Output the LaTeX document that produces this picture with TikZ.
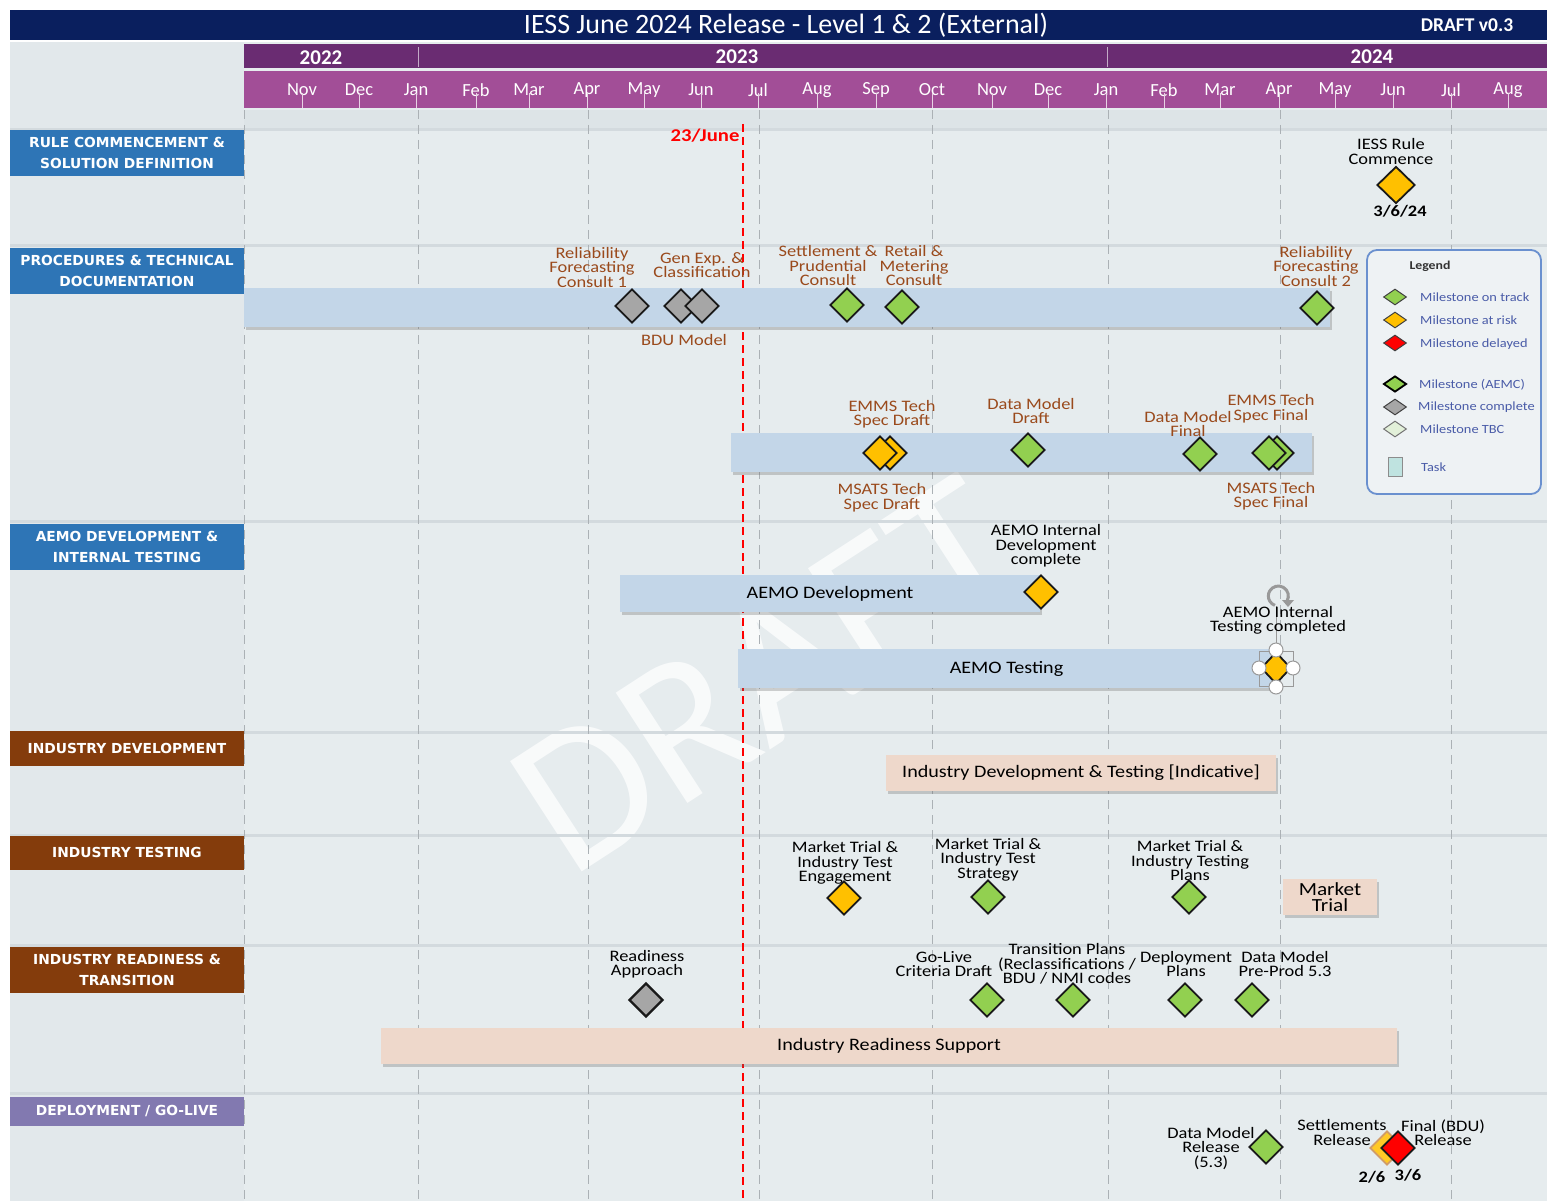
\documentclass[tikz,border=0pt]{standalone}
\usepackage{fontspec}
\setmainfont{Carlito}
\newfontfamily\wide[FakeStretch=1.15]{Carlito}
\newfontfamily\hdrfont{DejaVu Sans}
\usetikzlibrary{shapes.geometric,shadows}
\definecolor{navy}{HTML}{0A1F5E}
\definecolor{yeardark}{HTML}{6A2C72}
\definecolor{monthpurple}{HTML}{A24E97}
\definecolor{laneblue}{HTML}{2E75B6}
\definecolor{lanebrown}{HTML}{843C0C}
\definecolor{lanepurple}{HTML}{8279B0}
\definecolor{msgreen}{HTML}{92D050}
\definecolor{msorange}{HTML}{FFC000}
\definecolor{msred}{HTML}{FF0000}
\definecolor{msgray}{HTML}{A6A6A6}
\definecolor{mstbc}{HTML}{E2F0D9}
\definecolor{lblbrown}{HTML}{9A4A1C}
\definecolor{mainbg}{HTML}{E6ECEE}
\definecolor{leftbg}{HTML}{E2E8EB}
\definecolor{stripbg}{HTML}{DDE4E7}
\definecolor{sepc}{HTML}{D3DADE}
\definecolor{gridc}{HTML}{ABB1B5}
\definecolor{bluebar}{HTML}{C3D6E8}
\definecolor{peach}{HTML}{EED8CB}
\definecolor{legblue}{HTML}{6A90CF}
\definecolor{legbg}{HTML}{EEF2F4}
\definecolor{legtext}{HTML}{4A5CA8}
\definecolor{tasktl}{HTML}{BFE3E0}
\begin{document}
\begin{tikzpicture}[x=1pt,y=-1pt,
  ms/.style={diamond, draw=black!90, line width=1.8pt, minimum width=34pt, minimum height=34pt, inner sep=0pt},
  ok/.style={ms, fill=msgreen},
  risk/.style={ms, fill=msorange},
  late/.style={ms, fill=msred},
  done/.style={ms, fill=msgray},
  lbl/.style={text=lblbrown, align=center, inner sep=0pt, font=\wide\fontsize{16}{14.5}\selectfont},
  blk/.style={text=black, align=center, inner sep=0pt, font=\wide\fontsize{16}{14.5}\selectfont},
  datel/.style={text=black, inner sep=0pt, font=\wide\fontsize{16}{16}\selectfont\bfseries},
  lanehdr/.style={text=white, align=center, inner sep=0pt, minimum width=234pt, font=\hdrfont\bfseries\fontsize{13.8}{21}\selectfont},
  bar/.style={fill=bluebar, inner sep=0pt, font=\wide\fontsize{17.5}{17.5}\selectfont, drop shadow={shadow xshift=2pt, shadow yshift=-3pt, opacity=0.3, fill=black!60}},
  pbar/.style={bar, fill=peach},
  month/.style={text=white, inner sep=0pt, font=\fontsize{18.5}{18.5}\selectfont},
  year/.style={text=white, inner sep=0pt, font=\fontsize{21}{21}\selectfont\bfseries},
  gridl/.style={gridc, line width=0.9pt, dash pattern=on 9pt off 6pt},
  lms/.style={diamond, draw=black!75, line width=1pt, minimum width=23pt, minimum height=16pt, inner sep=0pt},
  legt/.style={text=legtext, anchor=west, inner sep=0pt, font=\wide\fontsize{12.5}{13}\selectfont},
  handle/.style={circle, draw=black!40, fill=white, line width=1pt, minimum size=14pt, inner sep=0pt}
]
\useasboundingbox (0,0) rectangle (1547,1201);
\fill[white] (0,0) rectangle (1547,1201);
% backgrounds
\fill[mainbg] (10,42) rectangle (1547,1201);
\fill[leftbg] (10,42) rectangle (244,1201);
\fill[stripbg] (244,110) rectangle (1547,130);
% watermark
\node[rotate=33, opacity=0.75, text=white, inner sep=0pt, font=\fontsize{205}{205}\selectfont] (wm) at (765,675) {DRAFT};
% lane separators
\foreach \yy in {130,245,521,732,835,945,1093}
  \draw[sepc, line width=3pt] (10,\yy) -- (1547,\yy);
% title bar
\fill[navy] (10,10) rectangle (1547,40);
\node[text=white, inner sep=0pt, font=\fontsize{28}{28}\selectfont] (title) at (786,25) {IESS June 2024 Release - Level 1 \& 2 (External)};
\node[text=white, inner sep=0pt, font=\fontsize{19.5}{19.5}\selectfont\bfseries] (ver) at (1467,25) {DRAFT v0.3};
% year bar
\fill[yeardark] (244,44) rectangle (1547,68);
\draw[white!60!yeardark, line width=1pt] (418,47) -- (418,67);
\draw[white!60!yeardark, line width=1pt] (1107,47) -- (1107,67);
\node[year] (y22) at (321,58) {2022};
\node[year] (y23) at (737,57) {2023};
\node[year] (y24) at (1372,57) {2024};
% month bar
\fill[monthpurple] (244,71) rectangle (1547,108);
\foreach \mx/\mn [count=\i] in {302/Nov,359/Dec,416/Jan,476/Feb,529/Mar,587/Apr,644/May,701/Jun,758/Jul,817/Aug,876/Sep,932/Oct,992/Nov,1048/Dec,1106/Jan,1164/Feb,1220/Mar,1279/Apr,1335/May,1393/Jun,1451/Jul,1508/Aug}{
  \node[month] (m\i) at (\mx,90) {\mn};
  \draw[white!75!monthpurple, line width=0.9pt] (\mx,93) -- (\mx,108);
}
% grid lines
\foreach \gx in {244,418,588,759,932,1108,1280,1451}
  \draw[gridl] (\gx,110) -- (\gx,1201);
% red today line
\draw[msred, line width=1.5pt, dash pattern=on 8pt off 5pt] (743,124) -- (743,1201);
\node[text=msred, inner sep=0pt, font=\wide\fontsize{18}{18}\selectfont\bfseries] (today) at (705,136) {23/June};
% lane headers
\node[lanehdr, fill=laneblue, minimum height=46pt] (h1) at (127,153) {RULE COMMENCEMENT \&\\SOLUTION DEFINITION};
\node[lanehdr, fill=laneblue, minimum height=46pt] (h2) at (127,270.5) {PROCEDURES \& TECHNICAL\\DOCUMENTATION};
\node[lanehdr, fill=laneblue, minimum height=46pt] (h3) at (127,546.5) {AEMO DEVELOPMENT \&\\INTERNAL TESTING};
\node[lanehdr, fill=lanebrown, minimum height=35pt] (h4) at (127,748) {INDUSTRY DEVELOPMENT};
\node[lanehdr, fill=lanebrown, minimum height=34pt] (h5) at (127,852.5) {INDUSTRY TESTING};
\node[lanehdr, fill=lanebrown, minimum height=46pt] (h6) at (127,969.5) {INDUSTRY READINESS \&\\TRANSITION};
\node[lanehdr, fill=lanepurple, minimum height=29pt] (h7) at (127,1111) {DEPLOYMENT / GO-LIVE};
% bars
\node[bar, minimum width=1086pt, minimum height=39pt] (b1) at (787,307.5) {};
\node[bar, minimum width=581pt, minimum height=39pt] (b2) at (1021.5,452.5) {};
\node[bar, minimum width=420pt, minimum height=37pt] (dev) at (830,593.5) {AEMO Development};
\node[bar, minimum width=537pt, minimum height=39pt] (tst) at (1006.5,668.5) {AEMO Testing};
\node[pbar, minimum width=390pt, minimum height=36pt] (ind) at (1081,773) {Industry Development \& Testing [Indicative]};
\node[pbar, minimum width=94pt, minimum height=36pt, align=center, font=\wide\fontsize{18.5}{16}\selectfont] (mtr) at (1330,897) {Market\\Trial};
\node[pbar, minimum width=1016pt, minimum height=36pt] (irs) at (889,1046) {Industry Readiness Support};
% lane 1
\node[blk] (r1t) at (1391,151.5) {IESS Rule\\Commence};
\node[risk, minimum width=38pt, minimum height=37pt] (r1d) at (1396,185) {};
\node[datel] (r1date) at (1400,211) {3/6/24};
% lane 2 top
\node[lbl] (p1t) at (592,267.5) {Reliability\\Forecasting\\Consult 1};
\node[lbl] (p2t) at (702,265) {Gen Exp. \&\\Classification};
\node[lbl] (p3t) at (828,266) {Settlement \&\\Prudential\\Consult};
\node[lbl] (p4t) at (914,266) {Retail \&\\Metering\\Consult};
\node[lbl] (p5t) at (1316,266.5) {Reliability\\Forecasting\\Consult 2};
\node[lbl] (bdu) at (684,340) {BDU Model};
\node[done] (p1d) at (632,306) {};
\node[done] (p2d) at (681,306) {};
\node[done] (p2e) at (702,306) {};
\node[ok] (p3d) at (847,305) {};
\node[ok] (p4d) at (902,307) {};
\node[ok] (p5d) at (1317,308) {};
% lane 2 bottom
\node[lbl] (q1t) at (892,414) {EMMS Tech\\Spec Draft};
\node[lbl] (q2t) at (1031,411) {Data Model\\Draft};
\node[lbl] (q3t) at (1188,424) {Data Model\\Final};
\node[lbl] (q4t) at (1271,408.5) {EMMS Tech\\Spec Final};
\node[lbl] (q5t) at (882,497.5) {MSATS Tech\\Spec Draft};
\node[lbl] (q6t) at (1271,496) {MSATS Tech\\Spec Final};
\node[risk] (q5d) at (890,453) {};
\node[risk] (q1d) at (880,453) {};
\node[ok] (q2d) at (1028,450) {};
\node[ok] (q3d) at (1200,454) {};
\node[ok] (q6d) at (1277,453) {};
\node[ok] (q4d) at (1269,453) {};
% legend
\node[draw=legblue, line width=1.8pt, rounded corners=10pt, fill=legbg, minimum width=174pt, minimum height=244pt, inner sep=0pt] (leg) at (1454,372) {};
\node[text=black!80, inner sep=0pt, font=\wide\fontsize{12}{12}\selectfont\bfseries] (legh) at (1430,266) {Legend};
\node[lms, fill=msgreen] (l1d) at (1395,297) {};
\node[legt] (l1t) at (1420,297) {Milestone on track};
\node[lms, fill=msorange] (l2d) at (1395,320) {};
\node[legt] (l2t) at (1420,320) {Milestone at risk};
\node[lms, fill=msred] (l3d) at (1395,343) {};
\node[legt] (l3t) at (1420,344) {Milestone delayed};
\node[lms, fill=msgreen, draw=black, line width=1.8pt] (l4d) at (1395,384) {};
\node[legt] (l4t) at (1419,385) {Milestone (AEMC)};
\node[lms, fill=msgray] (l5d) at (1395,407) {};
\node[legt] (l5t) at (1418,407) {Milestone complete};
\node[lms, fill=mstbc, draw=black!55] (l6d) at (1395,429) {};
\node[legt] (l6t) at (1420,429) {Milestone TBC};
\node[draw=black!45, fill=tasktl, line width=0.8pt, minimum width=14pt, minimum height=19pt, inner sep=0pt] (l7d) at (1395,467) {};
\node[legt] (l7t) at (1421,467) {Task};
% lane 3
\node[blk] (a1t) at (1046,546) {AEMO Internal\\Development\\complete};
\node[risk] (a1d) at (1041,592) {};
\draw[black!40, line width=0.8pt] (1276,606) -- (1276,643);
\draw[black!40, line width=3pt] (1287,601) arc[start angle=-30, end angle=250, radius=10pt];
\fill[black!40] (1282,600) -- (1294,600) -- (1288,607) -- cycle;
\node[inner sep=0pt] (rot) at (1278,596) {};
\node[blk] (a2t) at (1278,620.5) {AEMO Internal\\Testing completed};
\draw[black!40, line width=0.6pt] (1259,651) rectangle (1293,686);
\node[ms, fill=msorange, minimum width=30pt, minimum height=32pt] (a2d) at (1276,668) {};
\node[handle] (hn) at (1276,650) {};
\node[handle] (hw) at (1259,668) {};
\node[handle] (he) at (1293,668) {};
\node[handle] (hs) at (1276,687) {};
% lane 5
\node[blk] (m1t) at (845,863) {Market Trial \&\\Industry Test\\Engagement};
\node[risk] (m1d) at (844,898) {};
\node[blk] (m2t) at (988,859.5) {Market Trial \&\\Industry Test\\Strategy};
\node[ok] (m2d) at (988,897) {};
\node[blk] (m3t) at (1190,860.5) {Market Trial \&\\Industry Testing\\Plans};
\node[ok] (m3d) at (1189,897) {};
% lane 6
\node[blk] (t1t) at (647,964) {Readiness\\Approach};
\node[done, line width=2.4pt] (t1d) at (646,1000) {};
\node[blk] (t2t) at (944,964) {Go-Live\\Criteria Draft};
\node[ok] (t2d) at (987,1000) {};
\node[blk] (t3t) at (1067,964) {Transition Plans\\(Reclassifications /\\BDU / NMI codes};
\node[ok] (t3d) at (1073,1000) {};
\node[blk] (t4t) at (1186,964) {Deployment\\Plans};
\node[ok] (t4d) at (1185,1000) {};
\node[blk] (t5t) at (1285,964) {Data Model\\Pre-Prod 5.3};
\node[ok] (t5d) at (1252,1000) {};
% lane 7
\node[blk] (g1t) at (1211,1148.5) {Data Model\\Release\\(5.3)};
\node[ok] (g1d) at (1266,1147) {};
\node[blk] (g2t) at (1342,1132.5) {Settlements\\Release};
\node[blk] (g3t) at (1443,1132.5) {Final (BDU)\\Release};
\node[ms, fill=msorange!85, draw=orange!70!black!60] (g2d) at (1387,1148) {};
\node[late] (g3d) at (1398,1148) {};
\node[datel] (g2date) at (1372,1177) {2/6};
\node[datel] (g3date) at (1408,1175) {3/6};
\end{tikzpicture}
\end{document}
